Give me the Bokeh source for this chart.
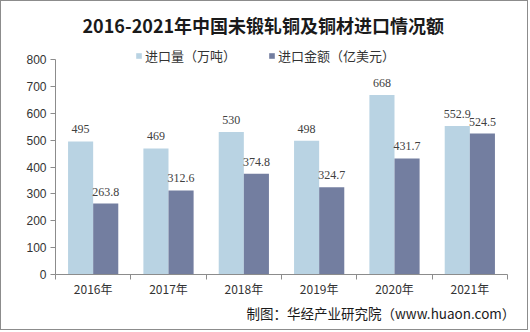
from bokeh.plotting import figure
from bokeh.models import (Range1d, FixedTicker, ColumnDataSource, LabelSet,
                          Legend, LegendItem, Title)
from bokeh.embed import file_html
from bokeh.resources import INLINE

years = ["2016年", "2017年", "2018年", "2019年", "2020年", "2021年"]
volume = [495, 469, 530, 498, 668, 552.9]          # 进口量（万吨）
amount = [263.8, 312.6, 374.8, 324.7, 431.7, 524.5]  # 进口金额（亿美元）
y_ticks = [0, 100, 200, 300, 400, 500, 600, 700, 800]

title_text = "2016-2021年中国未锻轧铜及铜材进口情况额"
legend_names = ["进口量（万吨）", "进口金额（亿美元）"]
source_text = "制图：华经产业研究院（www.huaon.com）"

C1 = "#B9D3E3"
C2 = "#737EA0"
CJK = "Noto Sans CJK SC"
LAT = "Liberation Sans"

W, H = 528, 330           # plus a 1px CSS border -> 530 x 332
FL, FR, FT, FB = 54, 506, 44, 273
Y800 = 58                 # pixel row of the 800 tick
y_top = 800 * (FB - FT) / (FB - Y800)

p = figure(width=W, height=H, output_backend="svg", toolbar_location=None,
           x_range=Range1d(0, len(years)), y_range=Range1d(0, y_top),
           min_border_left=FL, min_border_right=W - FR,
           min_border_top=FT, min_border_bottom=H - FB,
           styles={"border": "1px solid #8C8C8C"})
p.outline_line_color = None
p.grid.grid_line_color = None
p.background_fill_color = "white"
p.border_fill_color = "white"

n = len(years)
centers = [i + 0.5 for i in range(n)]
bw = 1 / 3.0
src = ColumnDataSource(dict(
    x1=[c - bw / 2 for c in centers], x2=[c + bw / 2 for c in centers],
    v=volume, a=amount,
    vt=[("%g" % v) for v in volume], at=[("%g" % a) for a in amount]))

r1 = p.vbar(x="x1", top="v", width=bw, source=src, color=C1, line_color=None)
r2 = p.vbar(x="x2", top="a", width=bw, source=src, color=C2, line_color=None)

for xf, yf, tf in (("x1", "v", "vt"), ("x2", "a", "at")):
    p.add_layout(LabelSet(x=xf, y=yf, text=tf, source=src, y_offset=8,
                          text_align="center", text_baseline="bottom",
                          text_font=LAT, text_font_size="12px",
                          text_color="#404040"))

# axes
xa = p.xaxis[0]
xa.ticker = FixedTicker(ticks=centers, minor_ticks=list(range(n + 1)))
xa.major_label_overrides = {c: y for c, y in zip(centers, years)}
xa.major_tick_out = 0
xa.major_tick_in = 0
xa.minor_tick_out = 5
xa.minor_tick_in = 0
xa.minor_tick_line_color = "#8C8C8C"
xa.axis_line_color = "#8C8C8C"
xa.major_label_standoff = 0
xa.major_label_text_font = CJK
xa.major_label_text_font_size = "12px"
xa.major_label_text_color = "#333333"

ya = p.yaxis[0]
ya.ticker = FixedTicker(ticks=y_ticks, minor_ticks=[])
ya.bounds = (0, 800)
ya.major_tick_out = 5
ya.major_tick_in = 0
ya.major_tick_line_color = "#8C8C8C"
ya.axis_line_color = "#8C8C8C"
ya.minor_tick_line_color = None
ya.major_label_standoff = 4
ya.major_label_text_font = LAT
ya.major_label_text_font_size = "12px"
ya.major_label_text_color = "#333333"

# title
p.title.text = title_text
p.title.text_font = CJK
p.title.text_font_size = "18px"
p.title.text_font_style = "bold"
p.title.text_color = "#1a1a1a"
p.title.align = "left"
p.title.offset = 27
p.title.standoff = 16

# legend (inside the frame, above the 800 line)
legend = Legend(items=[LegendItem(label=legend_names[0], renderers=[r1]),
                       LegendItem(label=legend_names[1], renderers=[r2])],
                orientation="horizontal", location=(80, 209),
                glyph_width=7, glyph_height=7, label_standoff=3, spacing=32,
                padding=0, margin=0, label_text_font=CJK,
                label_text_font_size="13px", label_text_color="#333333",
                label_height=13, border_line_color=None,
                background_fill_alpha=0)
p.add_layout(legend)

# source note
foot = Title(text=source_text, align="left", text_font=CJK, text_font_size="13.5px",
             text_font_style="normal", text_color="#1a1a1a", offset=191, standoff=2)
p.add_layout(foot, "below")

open("out.html", "w").write(file_html(p, INLINE))
